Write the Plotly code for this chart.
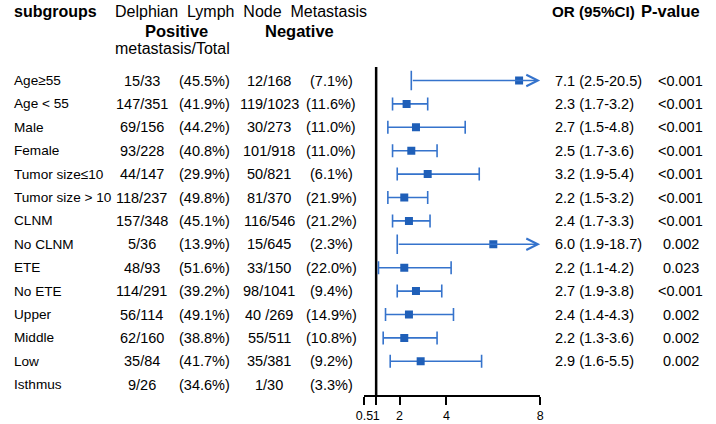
import plotly.graph_objects as go

subgroups = ["Age≥55", "Age < 55", "Male", "Female", "Tumor size≤10", "Tumor size > 10",
             "CLNM", "No CLNM", "ETE", "No ETE", "Upper", "Middle", "Low", "Isthmus"]
pos_counts = ["15/33", "147/351", "69/156", "93/228", "44/147", "118/237", "157/348",
              "5/36", "48/93", "114/291", "56/114", "62/160", "35/84", "9/26"]
pos_pct = ["(45.5%)", "(41.9%)", "(44.2%)", "(40.8%)", "(29.9%)", "(49.8%)", "(45.1%)",
           "(13.9%)", "(51.6%)", "(39.2%)", "(49.1%)", "(38.8%)", "(41.7%)", "(34.6%)"]
neg_counts = ["12/168", "119/1023", "30/273", "101/918", "50/821", "81/370", "116/546",
              "15/645", "33/150", "98/1041", "40 /269", "55/511", "35/381", "1/30"]
neg_pct = ["(7.1%)", "(11.6%)", "(11.0%)", "(11.0%)", "(6.1%)", "(21.9%)", "(21.2%)",
           "(2.3%)", "(22.0%)", "(9.4%)", "(14.9%)", "(10.8%)", "(9.2%)", "(3.3%)"]
or_val = [7.1, 2.3, 2.7, 2.5, 3.2, 2.2, 2.4, 6.0, 2.2, 2.7, 2.4, 2.2, 2.9, None]
ci_lo = [2.5, 1.7, 1.5, 1.7, 1.9, 1.5, 1.7, 1.9, 1.1, 1.9, 1.4, 1.3, 1.6, None]
ci_hi = [20.5, 3.2, 4.8, 3.6, 5.4, 3.2, 3.3, 18.7, 4.2, 3.8, 4.3, 3.6, 5.5, None]
p_values = ["<0.001", "<0.001", "<0.001", "<0.001", "<0.001", "<0.001", "<0.001",
            "0.002", "0.023", "<0.001", "0.002", "0.002", "0.002", ""]
x_ticks = [0.5, 1, 2, 4, 8]
x_tick_labels = ["0.5", "1", "2", "4", "8"]

X_MIN, X_MAX = 0.5, 8
W, H = 716, 424
ROW0, ROWSTEP = 80.5, 23.4
AXIS_Y = 395
FONT = "Liberation Sans, Arial, sans-serif"
MARK = "#1f5fb8"
LINE = "#3573cc"
ROWFONT = 14.5
CAP = 6.5

ys = [-i for i in range(len(subgroups))]
y_top = ROW0 / ROWSTEP
y_bot = -(AXIS_Y - ROW0) / ROWSTEP

fig = go.Figure()

nx, ny, np_, nm = [], [], [], []
cx, cy, clo = [], [], []
for i, (o, lo, hi) in enumerate(zip(or_val, ci_lo, ci_hi)):
    if o is None:
        continue
    if hi <= X_MAX:
        nx.append(o); ny.append(ys[i]); np_.append(hi - o); nm.append(o - lo)
    else:
        cx.append(o); cy.append(ys[i]); clo.append(lo)

# rows whose CI fits on the axis
fig.add_trace(go.Scatter(
    x=nx, y=ny, mode="markers",
    marker=dict(symbol="square", size=8, color=MARK),
    error_x=dict(type="data", symmetric=False, array=np_, arrayminus=nm,
                 color=LINE, thickness=1.6, width=CAP),
    showlegend=False, hoverinfo="skip"))

# rows whose upper CI runs past the axis: line + arrow, cap on the lower end
for o, lo, y in zip(cx, clo, cy):
    fig.add_annotation(x=X_MAX, y=y, ax=lo, ay=y, xref="x", yref="y", axref="x", ayref="y",
                       showarrow=True, arrowhead=5, arrowsize=1.4, arrowwidth=1.6,
                       arrowcolor=LINE, text="", standoff=0)
fig.add_trace(go.Scatter(
    x=clo, y=cy, mode="markers",
    marker=dict(symbol="line-ns", size=2 * CAP + 1, line=dict(color=LINE, width=1.6)),
    showlegend=False, hoverinfo="skip"))
fig.add_trace(go.Scatter(
    x=cx, y=cy, mode="markers",
    marker=dict(symbol="square", size=8, color=MARK),
    showlegend=False, hoverinfo="skip"))

fig.add_shape(type="line", x0=1, x1=1, y0=y_bot, y1=(ROW0 - 67) / ROWSTEP,
              xref="x", yref="y", line=dict(color="black", width=2.5), layer="below")

def px(x):
    return x / W

def add_col(texts, x, anchor, size=ROWFONT):
    for t, y in zip(texts, ys):
        if t == "":
            continue
        fig.add_annotation(x=px(x), y=y, xref="paper", yref="y", text=t,
                           showarrow=False, xanchor=anchor, yanchor="middle",
                           font=dict(family=FONT, size=size, color="black"))

add_col(subgroups, 3, "left", 13.6)
add_col(pos_counts, 135, "center")
add_col(pos_pct, 199, "center")
add_col(neg_counts, 265, "center")
add_col(neg_pct, 328, "center")
or_text = ["" if o is None else f"{o:.1f} ({lo}-{hi})" for o, lo, hi in zip(or_val, ci_lo, ci_hi)]
add_col(or_text, 554, "left")
add_col(p_values, 684, "center")

def header(text, x, y, anchor, size, bold):
    fig.add_annotation(x=px(x), y=1 - y / H, xref="paper", yref="paper",
                       text=f"<b>{text}</b>" if bold else text, showarrow=False,
                       xanchor=anchor, yanchor="middle",
                       font=dict(family=FONT, size=size, color="black"))

header("subgroups", 3, 12, "left", 16, True)
header("Delphian&nbsp;&nbsp;Lymph&nbsp;&nbsp;Node&nbsp;&nbsp;Metastasis", 106, 12, "left", 16, False)
header("Positive", 171, 33, "center", 16.5, True)
header("Negative", 296, 33, "center", 16.5, True)
header("metastasis/Total", 106, 52, "left", 16, False)
header("OR (95%CI)", 551, 12, "left", 15.2, True)
header("P-value", 642, 12, "left", 16.5, True)

fig.update_layout(
    width=W, height=H, margin=dict(l=0, r=0, t=0, b=H - AXIS_Y),
    paper_bgcolor="white", plot_bgcolor="white",
    xaxis=dict(domain=[px(362), px(541)], range=[X_MIN, X_MAX], tickvals=x_ticks,
               ticktext=x_tick_labels, tickangle=0, showgrid=False, zeroline=False,
               showline=True, linecolor="black", linewidth=2, ticks="outside",
               ticklen=8, tickwidth=2, tickcolor="black",
               tickfont=dict(family=FONT, size=12.5, color="black")),
    yaxis=dict(range=[y_bot, y_top], visible=False, showgrid=False, zeroline=False),
)

fig.write_html("out.html", config={"displayModeBar": False},
               post_script="document.body.style.margin='0';")
